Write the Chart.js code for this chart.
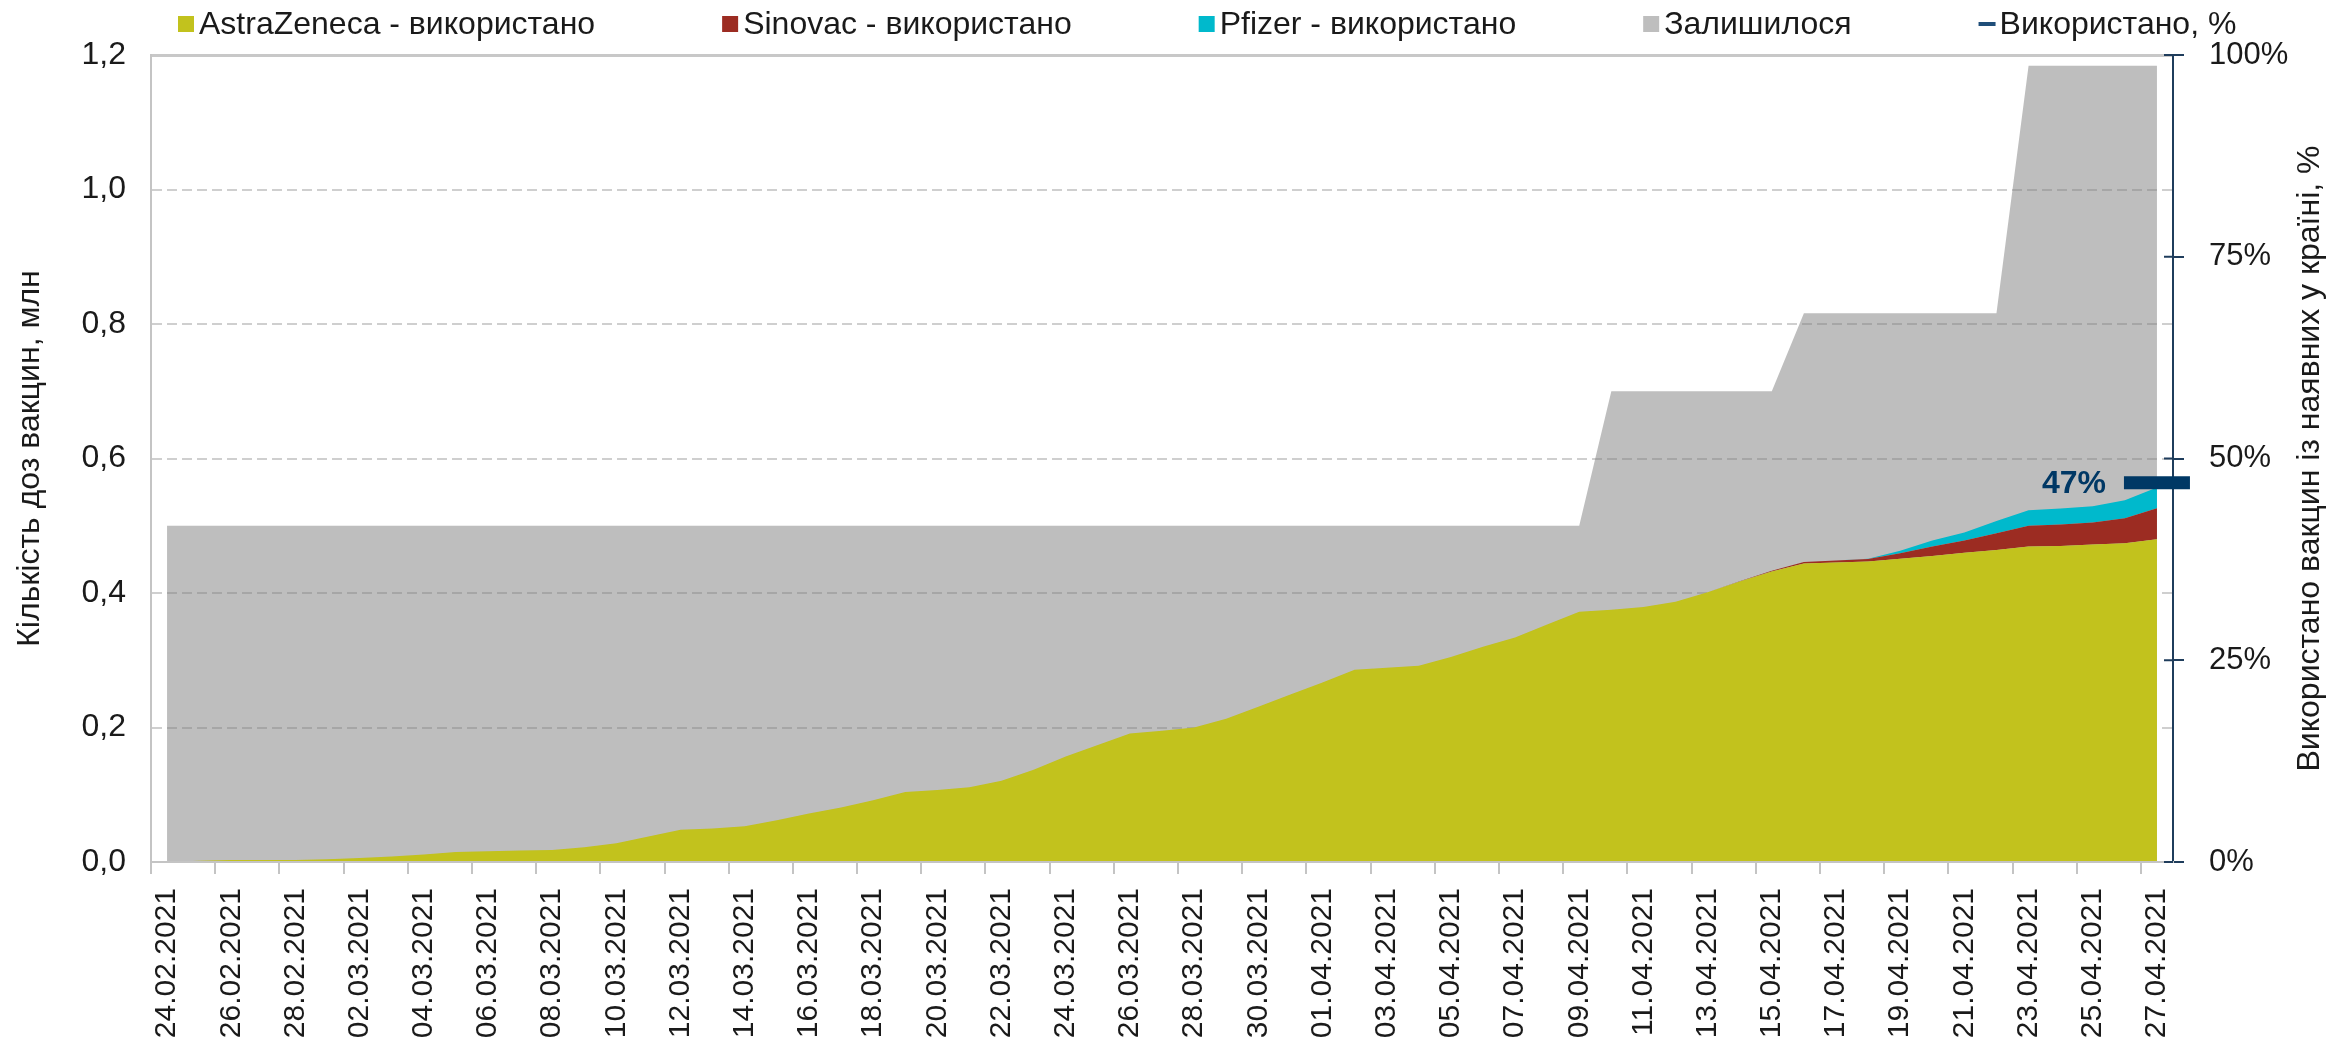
<!DOCTYPE html>
<html lang="uk">
<head>
    <meta charset="UTF-8">
    <title>Використання вакцин</title>
    <style>
        html, body {
            margin: 0;
            padding: 0;
            background: #fff;
        }
        #chart-container {
            width: 2348px;
            height: 1043px;
        }
    </style>
</head>
<body>
    <div id="chart-container">
        <canvas id="vaccine-chart" width="2348" height="1043"></canvas>
    </div>

    <script src="https://cdn.jsdelivr.net/npm/chart.js"></script>

    <script>
        // дати (щодня, підписано кожну другу)
        const dates = [
            '24.02.2021', '25.02.2021', '26.02.2021', '27.02.2021', '28.02.2021',
            '01.03.2021', '02.03.2021', '03.03.2021', '04.03.2021', '05.03.2021', '06.03.2021', '07.03.2021',
            '08.03.2021', '09.03.2021', '10.03.2021', '11.03.2021', '12.03.2021', '13.03.2021', '14.03.2021',
            '15.03.2021', '16.03.2021', '17.03.2021', '18.03.2021', '19.03.2021', '20.03.2021', '21.03.2021',
            '22.03.2021', '23.03.2021', '24.03.2021', '25.03.2021', '26.03.2021', '27.03.2021', '28.03.2021',
            '29.03.2021', '30.03.2021', '31.03.2021',
            '01.04.2021', '02.04.2021', '03.04.2021', '04.04.2021', '05.04.2021', '06.04.2021', '07.04.2021',
            '08.04.2021', '09.04.2021', '10.04.2021', '11.04.2021', '12.04.2021', '13.04.2021', '14.04.2021',
            '15.04.2021', '16.04.2021', '17.04.2021', '18.04.2021', '19.04.2021', '20.04.2021', '21.04.2021',
            '22.04.2021', '23.04.2021', '24.04.2021', '25.04.2021', '26.04.2021', '27.04.2021'
        ];

        // використано, млн доз (накопичено)
        const astraZeneca = [
            0.000, 0.002, 0.003, 0.003, 0.003,
            0.004, 0.006, 0.008, 0.011, 0.015, 0.016, 0.017,
            0.018, 0.022, 0.028, 0.038, 0.048, 0.050, 0.053,
            0.062, 0.072, 0.081, 0.092, 0.104, 0.107, 0.111,
            0.121, 0.137, 0.157, 0.174, 0.191, 0.195, 0.200,
            0.213, 0.231, 0.249,
            0.267, 0.286, 0.289, 0.292, 0.305, 0.320, 0.334,
            0.353, 0.372, 0.375, 0.379, 0.387, 0.401, 0.417,
            0.432, 0.444, 0.4455, 0.447, 0.451, 0.455, 0.460,
            0.464, 0.469, 0.470, 0.472, 0.474, 0.480
        ];
        const sinovac = [
            0, 0, 0, 0, 0,
            0, 0, 0, 0, 0, 0, 0,
            0, 0, 0, 0, 0, 0, 0,
            0, 0, 0, 0, 0, 0, 0,
            0, 0, 0, 0, 0, 0, 0,
            0, 0, 0,
            0, 0, 0, 0, 0, 0, 0,
            0, 0, 0, 0, 0, 0, 0.0005,
            0.001, 0.002, 0.003, 0.0035, 0.008, 0.014, 0.018,
            0.025, 0.031, 0.032, 0.033, 0.037, 0.046
        ];
        const pfizer = [
            0, 0, 0, 0, 0,
            0, 0, 0, 0, 0, 0, 0,
            0, 0, 0, 0, 0, 0, 0,
            0, 0, 0, 0, 0, 0, 0,
            0, 0, 0, 0, 0, 0, 0,
            0, 0, 0,
            0, 0, 0, 0, 0, 0, 0,
            0, 0, 0, 0, 0, 0, 0,
            0, 0, 0, 0.0005, 0.004, 0.009, 0.012,
            0.018, 0.023, 0.0235, 0.024, 0.027, 0.031
        ];
        // всього доз у країні (сіра площа малюється до цього рівня)
        const available = [
            0.5, 0.5, 0.5, 0.5, 0.5,
            0.5, 0.5, 0.5, 0.5, 0.5, 0.5, 0.5,
            0.5, 0.5, 0.5, 0.5, 0.5, 0.5, 0.5,
            0.5, 0.5, 0.5, 0.5, 0.5, 0.5, 0.5,
            0.5, 0.5, 0.5, 0.5, 0.5, 0.5, 0.5,
            0.5, 0.5, 0.5,
            0.5, 0.5, 0.5, 0.5, 0.5, 0.5, 0.5,
            0.5, 0.5, 0.7, 0.7, 0.7, 0.7, 0.7,
            0.7, 0.816, 0.816, 0.816, 0.816, 0.816, 0.816,
            0.816, 1.184, 1.184, 1.184, 1.184, 1.184
        ];
        // частка використаних, % (лише остання дата)
        const usedShareDate = '27.04.2021';
        const usedShareValue = 47;

        const FONT = '"Liberation Sans", Arial, sans-serif';
        const TEXT = '#1a1a1a';
        const AZ_COLOR = '#c2c21d';
        const SINOVAC_COLOR = '#9c2c22';
        const PFIZER_COLOR = '#00b9cc';
        const REST_FILL = 'rgba(125, 125, 125, 0.5)';
        const REST_LEGEND = '#bebebe';
        const MARKER = '#003865';
        const NAVY = '#1f3d5c';
        const AXIS_GRAY = '#c4c4c4';

        const leftTitle = 'Кількість доз вакцин, млн';
        const rightTitle = 'Використано вакцин із наявних у країні, %';

        const legendItems = [
            { text: 'AstraZeneca - використано', color: AZ_COLOR, kind: 'box' },
            { text: 'Sinovac - використано', color: SINOVAC_COLOR, kind: 'box' },
            { text: 'Pfizer - використано', color: PFIZER_COLOR, kind: 'box' },
            { text: 'Залишилося', color: REST_LEGEND, kind: 'box' },
            { text: 'Використано, %', color: '#1f4e79', kind: 'dash' }
        ];

        const usedShare = dates.map(d => (d === usedShareDate ? usedShareValue : null));

        // легенда, назви осей, підпис 47%
        const overlay = {
            id: 'overlay',
            afterDraw(chart) {
                const { ctx, chartArea, scales } = chart;
                ctx.save();

                ctx.font = '32px ' + FONT;
                ctx.textBaseline = 'middle';
                ctx.textAlign = 'left';
                let x = 178;
                const ly = 24;
                legendItems.forEach(item => {
                    ctx.fillStyle = item.color;
                    if (item.kind === 'dash') {
                        ctx.fillRect(x, ly - 2, 17, 4);
                    } else {
                        ctx.fillRect(x, ly - 8, 16, 16);
                    }
                    ctx.fillStyle = TEXT;
                    ctx.fillText(item.text, x + 21, ly + 1);
                    x += 21 + ctx.measureText(item.text).width + 127;
                });

                const midY = (chartArea.top + chartArea.bottom) / 2;
                ctx.textAlign = 'center';
                [[30, leftTitle], [2310, rightTitle]].forEach(([tx, t]) => {
                    ctx.save();
                    ctx.translate(tx, midY);
                    ctx.rotate(-Math.PI / 2);
                    ctx.fillText(t, 0, 0);
                    ctx.restore();
                });

                // внутрішня частина поділок правої осі
                const y1 = scales.y1;
                ctx.strokeStyle = NAVY;
                ctx.lineWidth = 2;
                y1.ticks.forEach(t => {
                    const py = y1.getPixelForValue(t.value);
                    ctx.beginPath();
                    ctx.moveTo(chartArea.right - 9, py);
                    ctx.lineTo(chartArea.right, py);
                    ctx.stroke();
                });

                const meta = chart.getDatasetMeta(4);
                const pt = meta.data[dates.indexOf(usedShareDate)];
                ctx.font = 'bold 32px ' + FONT;
                ctx.fillStyle = MARKER;
                ctx.textAlign = 'right';
                ctx.fillText(usedShareValue + '%', pt.x - 51, pt.y + 1);

                ctx.restore();
            }
        };

        const areaStyle = {
            borderWidth: 0,
            borderColor: 'rgba(0,0,0,0)',
            pointRadius: 0,
            pointHoverRadius: 0,
            tension: 0
        };

        new Chart(document.getElementById('vaccine-chart'), {
            type: 'line',
            data: {
                labels: dates,
                datasets: [
                    { ...areaStyle, label: 'AstraZeneca - використано', data: astraZeneca, stack: 'used', fill: 'origin', backgroundColor: AZ_COLOR },
                    { ...areaStyle, label: 'Sinovac - використано', data: sinovac, stack: 'used', fill: '-1', backgroundColor: SINOVAC_COLOR },
                    { ...areaStyle, label: 'Pfizer - використано', data: pfizer, stack: 'used', fill: '-1', backgroundColor: PFIZER_COLOR },
                    { ...areaStyle, label: 'Залишилося', data: available, stack: 'available', fill: 'origin', backgroundColor: REST_FILL },
                    {
                        label: 'Використано, %',
                        data: usedShare,
                        yAxisID: 'y1',
                        showLine: false,
                        pointStyle: 'line',
                        pointRadius: 33,
                        pointHoverRadius: 33,
                        pointBorderWidth: 13,
                        pointBorderColor: MARKER,
                        pointBackgroundColor: MARKER,
                        order: -1,
                        clip: false
                    }
                ]
            },
            options: {
                responsive: false,
                animation: false,
                devicePixelRatio: 1,
                layout: { padding: { top: 55, left: 0, right: 0, bottom: 0 } },
                font: { family: FONT },
                plugins: {
                    legend: { display: false },
                    tooltip: { enabled: false }
                },
                scales: {
                    x: {
                        offset: true,
                        grid: {
                            offset: true,
                            drawOnChartArea: false,
                            drawTicks: true,
                            tickLength: 12,
                            lineWidth: 2,
                            color: c => (c.index % 2 === 0 ? AXIS_GRAY : 'rgba(0,0,0,0)')
                        },
                        border: { color: AXIS_GRAY, width: 2, z: 1 },
                        ticks: {
                            autoSkip: false,
                            maxRotation: 90,
                            minRotation: 90,
                            padding: 14,
                            color: TEXT,
                            font: { family: FONT, size: 30 },
                            callback: (v, i) => (i % 2 === 0 ? dates[i] : '')
                        },
                        afterFit: s => { s.height = 181; }
                    },
                    y: {
                        stacked: true,
                        min: 0,
                        max: 1.2,
                        ticks: {
                            stepSize: 0.2,
                            padding: 25,
                            color: TEXT,
                            font: { family: FONT, size: 32 },
                            callback: v => v.toFixed(1).replace('.', ',')
                        },
                        grid: {
                            drawTicks: false,
                            lineWidth: c => (c.index === 6 ? 3 : 2),
                            color: c => (c.index === 6 ? '#c8c8c8' : '#cfcfcf')
                        },
                        border: {
                            color: AXIS_GRAY,
                            width: 2,
                            dash: c => (c.index > 0 && c.index < 6 ? [10, 5] : [])
                        },
                        afterFit: s => { s.width = 151; }
                    },
                    y1: {
                        position: 'right',
                        min: 0,
                        max: 100,
                        ticks: {
                            stepSize: 25,
                            padding: 25,
                            color: TEXT,
                            font: { family: FONT, size: 31 },
                            callback: v => v + '%'
                        },
                        grid: {
                            drawOnChartArea: false,
                            tickLength: 11,
                            color: NAVY,
                            lineWidth: 2
                        },
                        border: { color: NAVY, width: 2 },
                        afterFit: s => { s.width = 175; }
                    }
                }
            },
            plugins: [overlay]
        });
    </script>
</body>
</html>
